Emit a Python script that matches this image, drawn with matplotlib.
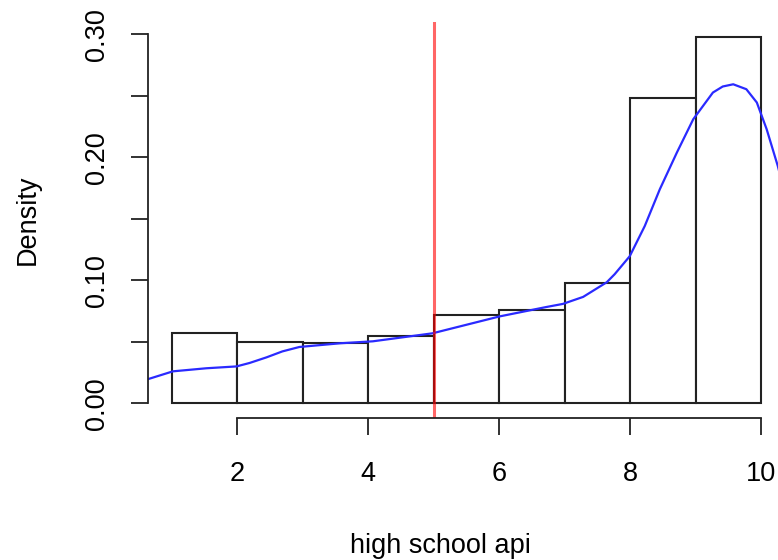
import numpy as np
import matplotlib.pyplot as plt

# histogram (density scale), bins of width 1 from 1 to 10
breaks = [1, 2, 3, 4, 5, 6, 7, 8, 9, 10]
density = [0.057, 0.050, 0.049, 0.055, 0.072, 0.076, 0.098, 0.248, 0.298]

# kernel density curve
kde_x = [0.63, 1.02, 1.53, 1.99, 2.19, 2.45, 2.69, 2.95, 3.57, 4.07, 4.98, 6.01, 6.72,
         6.97, 7.28, 7.64, 7.76, 7.99, 8.22, 8.45, 8.71, 8.96, 9.26, 9.41, 9.57, 9.77,
         9.93, 10.08, 10.25, 10.36]
kde_y = [0.0195, 0.026, 0.0285, 0.030, 0.0328, 0.0374, 0.0422, 0.0458, 0.0488, 0.0504,
         0.0569, 0.0707, 0.0783, 0.0808, 0.0865, 0.0984, 0.1049, 0.1195, 0.1441, 0.174,
         0.2038, 0.2309, 0.2526, 0.2575, 0.2593, 0.2553, 0.2445, 0.2228, 0.1929, 0.170]

cutoff = 5
yticks = [0.0, 0.05, 0.10, 0.15, 0.20, 0.25, 0.30]
yticklabels = ["0.00", "", "0.10", "", "0.20", "", "0.30"]
xticks = [2, 4, 6, 8, 10]

plt.rcParams['font.family'] = ['Liberation Sans', 'DejaVu Sans']
fs = 19.5

fig = plt.figure(figsize=(7.78, 5.60), dpi=100)
ax = fig.add_axes([148 / 778, (560 - 418) / 560, (785 - 148) / 778, (418 - 22) / 560])

widths = np.diff(breaks)
ax.bar(breaks[:-1], density, width=widths, align='edge', facecolor='white',
       edgecolor='#222222', linewidth=1.5)
ax.plot(kde_x, kde_y, color='#2a2aff', linewidth=1.6, solid_joinstyle='round')
ax.axvline(cutoff, color='red', alpha=0.6, linewidth=2.2)

ymax = max(density)
ax.set_xlim(1 - 0.04 * 9, 10 + 0.04 * 9)
ax.set_ylim(-0.04 * ymax, ymax * 1.04)

for s in ['top', 'right']:
    ax.spines[s].set_visible(False)
ax.spines['left'].set_bounds(0, 0.30)
ax.spines['bottom'].set_bounds(2, 10)
for s in ['left', 'bottom']:
    ax.spines[s].set_linewidth(1.3)
    ax.spines[s].set_color('#222222')

ax.set_yticks(yticks)
ax.set_yticklabels(yticklabels, rotation=90, va='center', fontsize=fs)
ax.set_xticks(xticks)
ax.set_xticklabels([str(t) for t in xticks], fontsize=fs)
ax.tick_params(direction='out', length=12.2, width=1.3, color='#222222')
ax.tick_params(axis='x', pad=18.5)
ax.tick_params(axis='y', pad=15)

fig.text(28 / 778, 1 - 220 / 560, 'Density', rotation=90, ha='center', va='center', fontsize=fs)
fig.text(440 / 778, 1 - 546 / 560, 'high school api', ha='center', va='center', fontsize=fs)

fig.savefig('out.png', dpi=100)
